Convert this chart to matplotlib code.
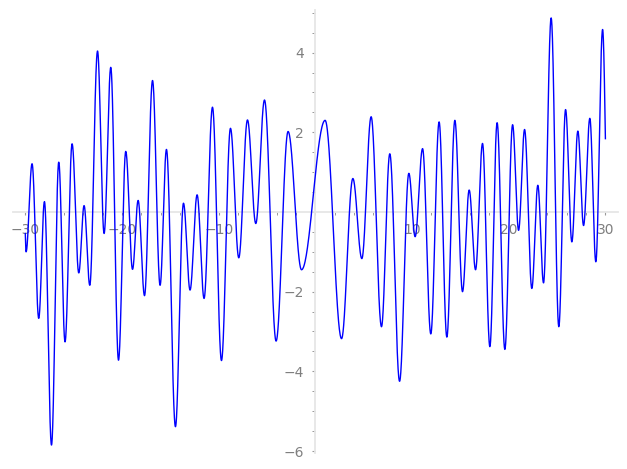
import numpy as np
import matplotlib
matplotlib.use("Agg")
import matplotlib.pyplot as plt
from matplotlib.ticker import MultipleLocator, AutoMinorLocator

# Curve turning points (x, y), plus start and end points
xs = [-30.0, -29.92, -29.30, -28.61, -28.02, -27.29, -26.54, -25.89, -25.16, -24.47,
      -23.92, -23.33, -22.53, -21.85, -21.16, -20.36, -19.61, -18.91, -18.33, -17.67,
      -16.84, -16.06, -15.40, -14.47, -13.64, -12.96, -12.23, -11.51, -10.64, -9.71,
      -8.78, -7.92, -7.02, -6.16, -5.26, -4.06, -2.82, -1.43, 1.01, 2.71,
      3.88, 4.81, 5.77, 6.84, 7.70, 8.71, 9.67, 10.32, 11.09, 11.94,
      12.80, 13.60, 14.43, 15.22, 15.91, 16.57, 17.29, 18.05, 18.80, 19.60,
      20.40, 21.02, 21.64, 22.39, 23.01, 23.60, 24.39, 25.18, 25.88, 26.53,
      27.15, 27.74, 28.39, 29.01, 29.71, 30.0]
ys = [-0.54, -1.00, 1.21, -2.67, 0.26, -5.85, 1.25, -3.26, 1.71, -1.53,
      0.16, -1.84, 4.04, -0.54, 3.63, -3.72, 1.52, -1.44, 0.29, -2.10,
      3.30, -1.84, 1.57, -5.39, 0.22, -1.96, 0.43, -2.17, 2.63, -3.73,
      2.10, -1.15, 2.31, -0.29, 2.81, -3.24, 2.02, -1.45, 2.30, -3.18,
      0.84, -1.17, 2.39, -2.88, 1.46, -4.25, 0.97, -0.62, 1.59, -3.06,
      2.26, -3.14, 2.30, -2.00, 0.55, -1.45, 1.72, -3.38, 2.24, -3.45,
      2.19, -0.46, 2.07, -1.92, 0.67, -1.78, 4.87, -2.88, 2.57, -0.75,
      2.03, -0.34, 2.35, -1.25, 4.58, 1.84]

x_ticks = [-30, -20, -10, 10, 20, 30]
y_ticks = [-6, -4, -2, 2, 4]

# Smooth curve through the turning points (half-cosine shape between extrema)
px, py = [], []
n = len(xs)
for i in range(n - 1):
    x0, x1, y0, y1 = xs[i], xs[i + 1], ys[i], ys[i + 1]
    t = np.linspace(0, 1, 60, endpoint=(i == n - 2))
    if i == 0:
        s = np.sin(np.pi / 2 * t)
    elif i == n - 2:
        s = 1 - np.cos(np.pi / 2 * t)
    else:
        s = (1 - np.cos(np.pi * t)) / 2
    px.append(x0 + (x1 - x0) * t)
    py.append(y0 + (y1 - y0) * s)
px = np.concatenate(px)
py = np.concatenate(py)

fig = plt.figure(figsize=(6.27, 4.69), dpi=100)
ax = fig.add_axes([0.0203, 0.0341, 0.9653, 0.9446])
ax.plot(px, py, color="blue", lw=1.0, zorder=3)

ax.set_xlim(-31.3, 31.3)
ax.set_ylim(-6.05, 5.07)

for side in ["top", "right"]:
    ax.spines[side].set_visible(False)
for side in ["left", "bottom"]:
    ax.spines[side].set_position(("data", 0))
    ax.spines[side].set_color("#e6e6e6")
    ax.spines[side].set_linewidth(1.3)

ax.set_xticks(x_ticks)
ax.set_yticks(y_ticks)
ax.xaxis.set_minor_locator(AutoMinorLocator(5))
ax.yaxis.set_minor_locator(AutoMinorLocator(4))
ax.tick_params(which="major", length=2.5, width=0.8, color="#999999",
               labelcolor="#7f7f7f", labelsize=10, pad=5.5)
ax.tick_params(which="minor", length=2.2, width=0.7, color="#999999")

fig.savefig("out.png", dpi=100)
